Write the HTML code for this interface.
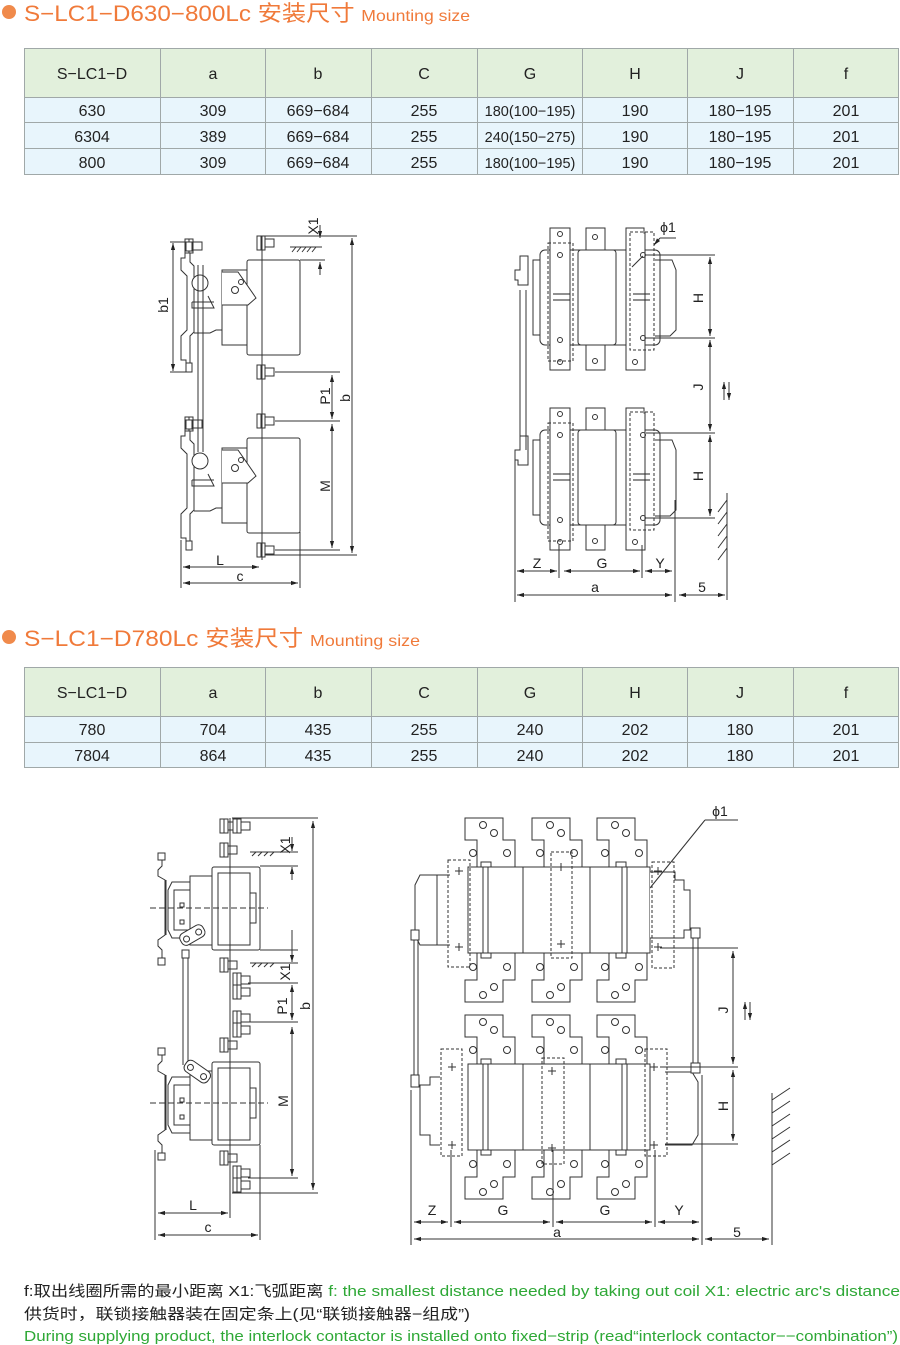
<!DOCTYPE html>
<html><head><meta charset="utf-8"><style>
html,body{margin:0;padding:0;background:#fff}
svg{display:block}
text{font-family:"Liberation Sans","Noto Sans CJK SC",sans-serif}
</style></head><body>
<svg width="900" height="1345" viewBox="0 0 900 1345" xmlns="http://www.w3.org/2000/svg">
<defs>
<marker id="ar" viewBox="0 0 10 10" refX="10" refY="5" markerWidth="7" markerHeight="7" orient="auto-start-reverse"><path d="M0,2 L10,5 L0,8 z" fill="#222"/></marker>
<g id="screw"><rect x="-5" y="-7" width="8" height="14" fill="#fff" stroke="#333"/><rect x="3" y="-4" width="9" height="8" fill="#fff" stroke="#333"/><line x1="-1" y1="-7" x2="-1" y2="7" stroke="#333"/></g>
<g id="cross" fill="#fff" stroke="#333" stroke-width="1"><path d="M-13,0 V-27 H-25 V-49 H-13 V-49 H13 V-27 H25 V0"/><path d="M-13,-49 H13 V-27"/><circle cx="-7" cy="-42" r="3.5"/><circle cx="4" cy="-34" r="3.5"/><circle cx="-17" cy="-14" r="3.5"/><circle cx="17" cy="-14" r="3.5"/></g>
</defs>

<!-- Title 1 -->
<circle cx="9" cy="12" r="7" fill="#f08a4b"/>
<text x="24" y="21" font-size="22" fill="#f07a3a" textLength="446" lengthAdjust="spacingAndGlyphs">S−LC1−D630−800Lc 安装尺寸 <tspan font-size="16">Mounting size</tspan></text>

<!-- Table 1 -->
<g stroke="#a0a8a8" stroke-width="1">
<rect x="24.5" y="48.5" width="874" height="49" fill="#e2f0dc"/>
<rect x="24.5" y="97.5" width="874" height="77" fill="#e8f5fc"/>
<line x1="24" y1="122.5" x2="898" y2="122.5"/><line x1="24" y1="148.5" x2="898" y2="148.5"/>
<line x1="160.5" y1="48" x2="160.5" y2="174"/><line x1="265.5" y1="48" x2="265.5" y2="174"/><line x1="371.5" y1="48" x2="371.5" y2="174"/><line x1="477.5" y1="48" x2="477.5" y2="174"/><line x1="582.5" y1="48" x2="582.5" y2="174"/><line x1="687.5" y1="48" x2="687.5" y2="174"/><line x1="793.5" y1="48" x2="793.5" y2="174"/>
</g>
<g font-size="16" fill="#222" text-anchor="middle">
<text x="92" y="79">S−LC1−D</text><text x="213" y="79">a</text><text x="318" y="79">b</text><text x="424" y="79">C</text><text x="530" y="79">G</text><text x="635" y="79">H</text><text x="740" y="79">J</text><text x="846" y="79">f</text>
<text x="92" y="116">630</text><text x="213" y="116">309</text><text x="318" y="116">669−684</text><text x="424" y="116">255</text><text x="530" y="116" font-size="14.5">180(100−195)</text><text x="635" y="116">190</text><text x="740" y="116">180−195</text><text x="846" y="116">201</text>
<text x="92" y="142">6304</text><text x="213" y="142">389</text><text x="318" y="142">669−684</text><text x="424" y="142">255</text><text x="530" y="142" font-size="14.5">240(150−275)</text><text x="635" y="142">190</text><text x="740" y="142">180−195</text><text x="846" y="142">201</text>
<text x="92" y="168">800</text><text x="213" y="168">309</text><text x="318" y="168">669−684</text><text x="424" y="168">255</text><text x="530" y="168" font-size="14.5">180(100−195)</text><text x="635" y="168">190</text><text x="740" y="168">180−195</text><text x="846" y="168">201</text>
</g>

<!-- Diagram 1 left -->
<g stroke="#333" stroke-width="1" fill="none">
<g id="d1pole">
<rect x="247" y="260" width="53" height="95" rx="2" fill="#fff"/>
<path d="M247,270 H222 V305 H247 M222,305 V345 H247"/>
<path d="M222,272 H238 L256,298 L248,305 H222" fill="#fff"/>
<circle cx="235" cy="290" r="3.5"/><circle cx="241" cy="282" r="2.5"/>
<path d="M185,250 V258 H181 V270 L187,276 V330 L181,336 V360 H186 V368"/>
<path d="M190,248 V262 L194,266 V332 L190,336 V365"/>
<path d="M194,333 H210 L216,330 H222"/>
<circle cx="200" cy="283" r="8" fill="#fff"/>
<path d="M192,302 H214 M192,302 V308 H214 L208,296"/>
<use href="#screw" x="190" y="246"/>
<rect x="186" y="242" width="6" height="9" fill="#fff"/><rect x="186" y="363" width="6" height="9" fill="#fff"/>
<use href="#screw" x="262" y="243"/><use href="#screw" x="262" y="372"/>
</g>
<use href="#d1pole" y="178"/>
<line x1="198" y1="265" x2="198" y2="452"/><line x1="203" y1="265" x2="203" y2="452"/>
<line x1="262" y1="236" x2="262" y2="560"/>
<line x1="170" y1="242" x2="188" y2="242"/><line x1="170" y1="372" x2="188" y2="372"/>
<line x1="173" y1="243" x2="173" y2="371" marker-start="url(#ar)" marker-end="url(#ar)"/>
<line x1="265" y1="236" x2="357" y2="236"/><line x1="265" y1="555" x2="357" y2="555"/>
<line x1="352" y1="238" x2="352" y2="553" marker-start="url(#ar)" marker-end="url(#ar)"/>
<line x1="320" y1="225" x2="320" y2="238" marker-end="url(#ar)"/><line x1="320" y1="275" x2="320" y2="262" marker-end="url(#ar)"/>
<line x1="290" y1="247" x2="322" y2="247"/><line x1="300" y1="260" x2="325" y2="260"/>
<path d="M292,252 l4,-5 M297,252 l4,-5 M302,252 l4,-5 M307,252 l4,-5 M312,252 l4,-5"/>
<line x1="275" y1="372" x2="340" y2="372"/><line x1="275" y1="421" x2="340" y2="421"/><line x1="275" y1="550" x2="340" y2="550"/>
<line x1="332" y1="375" x2="332" y2="419" marker-start="url(#ar)" marker-end="url(#ar)"/>
<line x1="332" y1="424" x2="332" y2="548" marker-start="url(#ar)" marker-end="url(#ar)"/>
<line x1="181" y1="540" x2="181" y2="588"/><line x1="300" y1="532" x2="300" y2="588"/>
<line x1="183" y1="567" x2="259" y2="567" marker-start="url(#ar)" marker-end="url(#ar)"/>
<line x1="183" y1="583" x2="298" y2="583" marker-start="url(#ar)" marker-end="url(#ar)"/>
</g>
<g font-size="14" fill="#222" text-anchor="middle">
<text transform="translate(168,305) rotate(-90)">b1</text>
<text transform="translate(318,226) rotate(-90)">X1</text>
<text transform="translate(330,396) rotate(-90)">P1</text>
<text transform="translate(350,398) rotate(-90)">b</text>
<text transform="translate(330,486) rotate(-90)">M</text>
<text x="220" y="565">L</text><text x="240" y="581">c</text>
</g>

<!-- Diagram 1 right -->
<g stroke="#333" stroke-width="1" fill="none">
<g id="d1rp">
<rect x="540" y="250" width="120" height="95" rx="5" fill="#fff"/>
<path d="M540,260 H533 V335 H540"/>
<rect x="550" y="228" width="20" height="142" fill="#fff"/>
<rect x="578" y="250" width="38" height="95" rx="3" fill="#fff"/>
<rect x="586" y="228" width="19" height="22" fill="#fff"/><rect x="586" y="345" width="19" height="25" fill="#fff"/>
<path d="M626,370 V228 H644 V233 H645 V370 Z" fill="#fff"/>
<rect x="548" y="243" width="25" height="118" stroke-dasharray="3,2"/>
<rect x="630" y="232" width="24" height="118" stroke-dasharray="3,2"/>
<path d="M655,260 H672 L676,270 V330 L670,336 H655"/>
<circle cx="560" cy="234" r="2.5"/><circle cx="560" cy="255" r="2.5"/><circle cx="560" cy="340" r="2.5"/><circle cx="560" cy="362" r="2.5"/>
<circle cx="595" cy="237" r="2.5"/><circle cx="595" cy="361" r="2.5"/>
<circle cx="643" cy="255" r="2.5"/><circle cx="643" cy="338" r="2.5"/><circle cx="635" cy="362" r="2.5"/>
<path d="M553,294 H570 M553,300 H570 M633,294 H650 M633,300 H650" stroke="#222"/>
<path d="M520,256 H528 V285 H518 V280 H515 V270 H520 Z" fill="#fff"/>
</g>
<use href="#d1rp" y="180"/>
<line x1="520" y1="290" x2="520" y2="450"/><line x1="526" y1="290" x2="526" y2="450"/>
<line x1="646" y1="255" x2="715" y2="255"/><line x1="646" y1="338" x2="715" y2="338"/><line x1="646" y1="433" x2="715" y2="433"/><line x1="646" y1="518" x2="715" y2="518"/>
<line x1="710" y1="257" x2="710" y2="336" marker-start="url(#ar)" marker-end="url(#ar)"/>
<line x1="710" y1="340" x2="710" y2="431" marker-start="url(#ar)" marker-end="url(#ar)"/>
<line x1="710" y1="435" x2="710" y2="516" marker-start="url(#ar)" marker-end="url(#ar)"/>
<line x1="724" y1="400" x2="724" y2="382" marker-end="url(#ar)"/><line x1="729" y1="382" x2="729" y2="400" marker-end="url(#ar)"/>
<line x1="727" y1="493" x2="727" y2="600"/>
<path d="M727,500 l-9,12 M727,512 l-9,12 M727,524 l-9,12 M727,536 l-9,12 M727,548 l-9,12"/>
<line x1="515" y1="455" x2="515" y2="602"/><line x1="559" y1="545" x2="559" y2="578"/><line x1="642" y1="545" x2="642" y2="578"/><line x1="675" y1="500" x2="675" y2="602"/>
<line x1="517" y1="571" x2="557" y2="571" marker-start="url(#ar)" marker-end="url(#ar)"/>
<line x1="564" y1="571" x2="640" y2="571" marker-start="url(#ar)" marker-end="url(#ar)"/>
<line x1="645" y1="571" x2="672" y2="571" marker-start="url(#ar)" marker-end="url(#ar)"/>
<line x1="517" y1="595" x2="672" y2="595" marker-start="url(#ar)" marker-end="url(#ar)"/>
<line x1="679" y1="595" x2="725" y2="595" marker-start="url(#ar)" marker-end="url(#ar)"/>
<line x1="632" y1="267" x2="643" y2="256"/><line x1="654" y1="245" x2="660" y2="238" marker-start="url(#ar)"/><line x1="660" y1="238" x2="676" y2="238"/>
</g>
<g font-size="14" fill="#222" text-anchor="middle">
<text x="668" y="232">ϕ1</text>
<text transform="translate(703,298) rotate(-90)">H</text>
<text transform="translate(703,387) rotate(-90)">J</text>
<text transform="translate(703,476) rotate(-90)">H</text>
<text x="537" y="568">Z</text><text x="602" y="568">G</text><text x="660" y="568">Y</text>
<text x="595" y="592">a</text><text x="702" y="592">5</text>
</g>

<!-- Title 2 -->
<circle cx="9" cy="637" r="7" fill="#f08a4b"/>
<text x="24" y="646" font-size="22" fill="#f07a3a" textLength="396" lengthAdjust="spacingAndGlyphs">S−LC1−D780Lc  安装尺寸 <tspan font-size="16">Mounting size</tspan></text>

<!-- Table 2 -->
<g stroke="#a0a8a8" stroke-width="1">
<rect x="24.5" y="667.5" width="874" height="49" fill="#e2f0dc"/>
<rect x="24.5" y="716.5" width="874" height="51" fill="#e8f5fc"/>
<line x1="24" y1="742.5" x2="898" y2="742.5"/>
<line x1="160.5" y1="667" x2="160.5" y2="767"/><line x1="265.5" y1="667" x2="265.5" y2="767"/><line x1="371.5" y1="667" x2="371.5" y2="767"/><line x1="477.5" y1="667" x2="477.5" y2="767"/><line x1="582.5" y1="667" x2="582.5" y2="767"/><line x1="687.5" y1="667" x2="687.5" y2="767"/><line x1="793.5" y1="667" x2="793.5" y2="767"/>
</g>
<g font-size="16" fill="#222" text-anchor="middle">
<text x="92" y="698">S−LC1−D</text><text x="213" y="698">a</text><text x="318" y="698">b</text><text x="424" y="698">C</text><text x="530" y="698">G</text><text x="635" y="698">H</text><text x="740" y="698">J</text><text x="846" y="698">f</text>
<text x="92" y="735">780</text><text x="213" y="735">704</text><text x="318" y="735">435</text><text x="424" y="735">255</text><text x="530" y="735">240</text><text x="635" y="735">202</text><text x="740" y="735">180</text><text x="846" y="735">201</text>
<text x="92" y="761">7804</text><text x="213" y="761">864</text><text x="318" y="761">435</text><text x="424" y="761">255</text><text x="530" y="761">240</text><text x="635" y="761">202</text><text x="740" y="761">180</text><text x="846" y="761">201</text>
</g>

<!-- Diagram 2 left -->
<g stroke="#333" stroke-width="1" fill="none">
<g id="d2lp">
<rect x="212" y="867" width="48" height="83" rx="2" fill="#fff"/>
<rect x="218" y="873" width="32" height="72" fill="#fff"/>
<rect x="250" y="893" width="6" height="30"/>
<path d="M212,876 H190 V945 H212"/>
<path d="M190,882 H172 L168,890 V930 L172,938 H190"/>
<rect x="174" y="890" width="16" height="40"/>
<path d="M162,858 V866 L158,870 V876 L165,880 V935 L158,940 V946 L162,950 V958"/>
<path d="M166,880 V935"/>
<rect x="158" y="853" width="7" height="7" fill="#fff"/><rect x="158" y="958" width="7" height="7" fill="#fff"/>
<rect x="180" y="903" width="4" height="4"/><rect x="180" y="920" width="4" height="4"/>
<line x1="150" y1="908" x2="268" y2="908" stroke-dasharray="6,3"/>
</g>
<use href="#d2lp" y="195"/>
<use href="#screw" x="225" y="826"/><use href="#screw" x="238" y="826"/><use href="#screw" x="225" y="850"/>
<use href="#screw" x="225" y="965"/><use href="#screw" x="238" y="980"/><use href="#screw" x="238" y="992"/>
<use href="#screw" x="238" y="1018"/><use href="#screw" x="238" y="1030"/><use href="#screw" x="225" y="1045"/>
<use href="#screw" x="225" y="1158"/><use href="#screw" x="238" y="1173"/><use href="#screw" x="238" y="1185"/>
<line x1="230" y1="818" x2="230" y2="1195"/>
<rect x="182" y="950" width="7" height="8" fill="#fff"/>
<line x1="183" y1="958" x2="183" y2="1065"/><line x1="188" y1="958" x2="188" y2="1065"/>
<g transform="translate(190,937) rotate(-30)"><rect x="-10" y="-7" width="26" height="13" rx="5" fill="#fff"/><circle cx="-4" cy="0" r="3"/><circle cx="10" cy="0" r="3"/></g>
<g transform="translate(197,1072) rotate(35)"><rect x="-14" y="-7" width="28" height="13" rx="5" fill="#fff"/><circle cx="-8" cy="0" r="3"/><circle cx="8" cy="0" r="3"/></g>
<line x1="232" y1="818" x2="318" y2="818"/><line x1="232" y1="1193" x2="318" y2="1193"/>
<line x1="313" y1="821" x2="313" y2="1190" marker-start="url(#ar)" marker-end="url(#ar)"/>
<line x1="250" y1="852" x2="298" y2="852"/><line x1="260" y1="866" x2="298" y2="866"/>
<path d="M252,856 l4,-4 M258,856 l4,-4 M264,856 l4,-4 M270,856 l4,-4"/>
<line x1="292" y1="837" x2="292" y2="851" marker-end="url(#ar)"/><line x1="292" y1="880" x2="292" y2="867" marker-end="url(#ar)"/>
<line x1="260" y1="950" x2="298" y2="950"/><line x1="250" y1="963" x2="298" y2="963"/>
<path d="M252,967 l4,-4 M258,967 l4,-4 M264,967 l4,-4 M270,967 l4,-4"/>
<line x1="292" y1="930" x2="292" y2="962" marker-end="url(#ar)"/>
<line x1="248" y1="983" x2="298" y2="983"/><line x1="248" y1="1022" x2="298" y2="1022"/><line x1="248" y1="1178" x2="298" y2="1178"/>
<line x1="292" y1="985" x2="292" y2="1020" marker-start="url(#ar)" marker-end="url(#ar)"/>
<line x1="292" y1="1027" x2="292" y2="1176" marker-start="url(#ar)" marker-end="url(#ar)"/>
<line x1="155" y1="1150" x2="155" y2="1240"/><line x1="230" y1="1195" x2="230" y2="1218"/><line x1="260" y1="1145" x2="260" y2="1240"/>
<line x1="158" y1="1213" x2="228" y2="1213" marker-start="url(#ar)" marker-end="url(#ar)"/>
<line x1="158" y1="1235" x2="258" y2="1235" marker-start="url(#ar)" marker-end="url(#ar)"/>
</g>
<g font-size="14" fill="#222" text-anchor="middle">
<text transform="translate(290,845) rotate(-90)">X1</text>
<text transform="translate(290,972) rotate(-90)">X1</text>
<text transform="translate(287,1006) rotate(-90)">P1</text>
<text transform="translate(310,1006) rotate(-90)">b</text>
<text transform="translate(288,1101) rotate(-90)">M</text>
<text x="193" y="1210">L</text><text x="208" y="1232">c</text>
</g>

<!-- Diagram 2 right -->
<g stroke="#333" stroke-width="1" fill="none">
<g id="d2top">
<use href="#cross" x="490" y="867"/><use href="#cross" x="557" y="867"/><use href="#cross" x="622" y="867"/>
<use href="#cross" x="490" y="953" transform="translate(0,1906) scale(1,-1)"/>
<use href="#cross" x="557" y="953" transform="translate(0,1906) scale(1,-1)"/>
<use href="#cross" x="622" y="953" transform="translate(0,1906) scale(1,-1)"/>
<rect x="468" y="867" width="182" height="86" fill="#fff"/>
<path d="M483,867 V953 M488,867 V953 M523,867 V953 M590,867 V953 M622,867 V953 M627,867 V953"/>
<rect x="481" y="862" width="10" height="5"/><rect x="481" y="953" width="10" height="5"/>
<rect x="616" y="862" width="10" height="5"/><rect x="616" y="953" width="10" height="5"/>
</g>
<use href="#d2top" y="197"/>
<path d="M450,875 H420 L415,885 V935 L420,945 H450" fill="#fff"/><line x1="437" y1="875" x2="437" y2="945"/>
<path d="M650,872 H675 V880 H684 V890 H690 V930 H684 V938 H650" fill="#fff"/>
<rect x="448" y="860" width="22" height="107" stroke-dasharray="3,2"/>
<rect x="551" y="852" width="21" height="106" stroke-dasharray="3,2"/>
<rect x="652" y="862" width="22" height="106" stroke-dasharray="3,2"/>
<path d="M440,1077 H430 V1085 H420 V1135 H430 V1145 H440" fill="#fff"/>
<path d="M665,1072 H692 L698,1082 V1135 L692,1145 H665" fill="#fff"/>
<rect x="441" y="1049" width="21" height="107" stroke-dasharray="3,2"/>
<rect x="542" y="1058" width="22" height="106" stroke-dasharray="3,2"/>
<rect x="645" y="1049" width="22" height="107" stroke-dasharray="3,2"/>
<path d="M455,871 h8 M459,867 v8 M455,947 h8 M459,943 v8 M557,867 h8 M561,863 v8 M557,944 h8 M561,940 v8 M654,871 h8 M658,867 v8 M654,947 h8 M658,943 v8 M448,1067 h8 M452,1063 v8 M448,1145 h8 M452,1141 v8 M548,1071 h8 M552,1067 v8 M548,1148 h8 M552,1144 v8 M650,1067 h8 M654,1063 v8 M650,1145 h8 M654,1141 v8"/>
<rect x="411" y="930" width="8" height="10" fill="#fff"/><line x1="414" y1="940" x2="414" y2="1075"/><line x1="418" y1="940" x2="418" y2="1075"/>
<rect x="411" y="1075" width="8" height="12" fill="#fff"/>
<rect x="691" y="928" width="9" height="10" fill="#fff"/><line x1="693" y1="938" x2="693" y2="1063"/><line x1="698" y1="938" x2="698" y2="1063"/>
<rect x="691" y="1063" width="9" height="10" fill="#fff"/>
<line x1="660" y1="948" x2="738" y2="948"/><line x1="660" y1="1067" x2="738" y2="1067"/><line x1="665" y1="1144" x2="738" y2="1144"/>
<line x1="733" y1="951" x2="733" y2="1064" marker-start="url(#ar)" marker-end="url(#ar)"/>
<line x1="733" y1="1070" x2="733" y2="1141" marker-start="url(#ar)" marker-end="url(#ar)"/>
<line x1="745" y1="1020" x2="745" y2="1002" marker-end="url(#ar)"/><line x1="750" y1="1002" x2="750" y2="1020" marker-end="url(#ar)"/>
<line x1="772" y1="1093" x2="772" y2="1245"/>
<path d="M772,1100 l18,-12 M772,1113 l18,-12 M772,1126 l18,-12 M772,1139 l18,-12 M772,1152 l18,-12 M772,1165 l18,-12"/>
<line x1="411" y1="1090" x2="411" y2="1245"/><line x1="451" y1="1150" x2="451" y2="1227"/><line x1="553" y1="1150" x2="553" y2="1227"/><line x1="655" y1="1150" x2="655" y2="1227"/><line x1="702" y1="1075" x2="702" y2="1245"/>
<line x1="414" y1="1222" x2="448" y2="1222" marker-start="url(#ar)" marker-end="url(#ar)"/>
<line x1="454" y1="1222" x2="550" y2="1222" marker-start="url(#ar)" marker-end="url(#ar)"/>
<line x1="556" y1="1222" x2="652" y2="1222" marker-start="url(#ar)" marker-end="url(#ar)"/>
<line x1="658" y1="1222" x2="699" y2="1222" marker-start="url(#ar)" marker-end="url(#ar)"/>
<line x1="414" y1="1239" x2="699" y2="1239" marker-start="url(#ar)" marker-end="url(#ar)"/>
<line x1="705" y1="1239" x2="769" y2="1239" marker-start="url(#ar)" marker-end="url(#ar)"/>
<line x1="650" y1="888" x2="705" y2="820"/><line x1="705" y1="820" x2="738" y2="820"/>
</g>
<g font-size="14" fill="#222" text-anchor="middle">
<text x="720" y="816">ϕ1</text>
<text transform="translate(728,1010) rotate(-90)">J</text>
<text transform="translate(728,1106) rotate(-90)">H</text>
<text x="432" y="1215">Z</text><text x="503" y="1215">G</text><text x="605" y="1215">G</text><text x="679" y="1215">Y</text>
<text x="557" y="1237">a</text><text x="737" y="1237">5</text>
</g>

<!-- Footer -->
<g font-size="15">
<text x="24" y="1296" textLength="876" lengthAdjust="spacingAndGlyphs"><tspan fill="#222">f:取出线圈所需的最小距离   X1:飞弧距离   </tspan><tspan fill="#2ea836">f: the smallest distance needed by taking out coil   X1: electric arc's distance</tspan></text>
<text x="24" y="1319" fill="#222" textLength="446" lengthAdjust="spacingAndGlyphs">供货时，联锁接触器装在固定条上(见“联锁接触器−组成”)</text>
<text x="24" y="1341" fill="#2ea836" textLength="874" lengthAdjust="spacingAndGlyphs">During supplying product, the interlock contactor is installed onto fixed−strip (read“interlock contactor−−combination”)</text>
</g>
</svg>
</body></html>
